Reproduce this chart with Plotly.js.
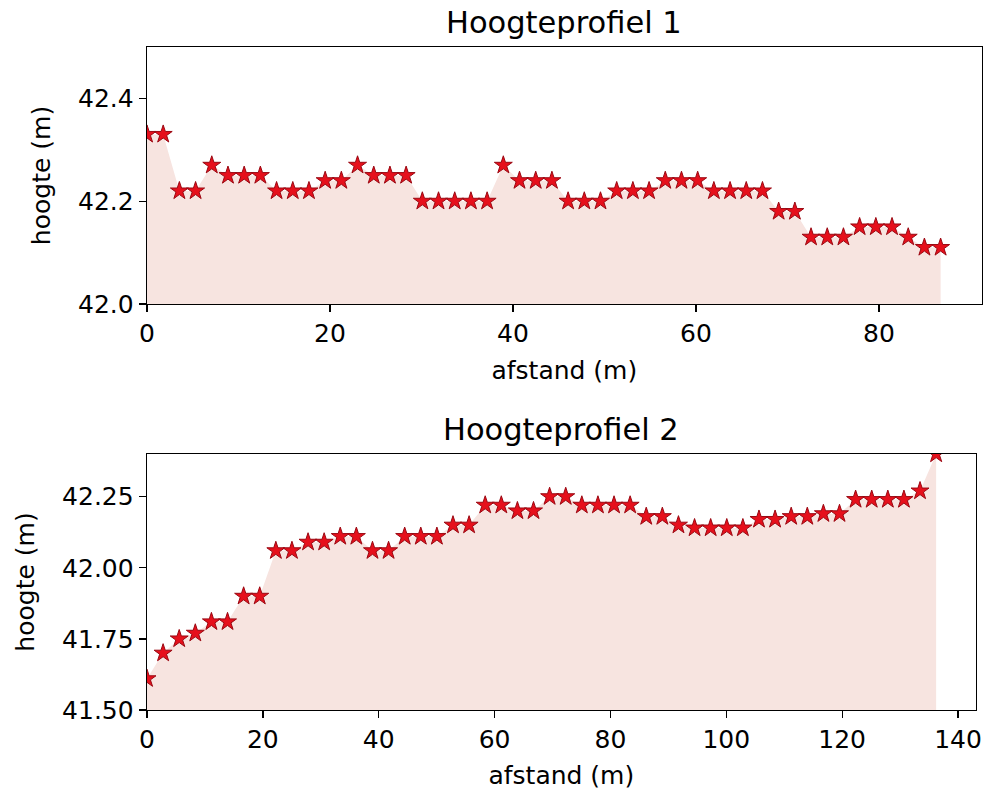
<!DOCTYPE html>
<html>
<head>
<meta charset="utf-8">
<script src="https://cdn.plot.ly/plotly-3.0.1.min.js"></script>
<style>html,body{margin:0;padding:0;background:#fff;}#chart{width:984px;height:790px;}</style>
</head>
<body>
<div id="chart"></div>
<script>
// Hoogteprofiel 1
const afstand1 = [0, 1.77, 3.54, 5.31, 7.08, 8.85, 10.62, 12.39, 14.16, 15.93, 17.7, 19.47, 21.24, 23.01, 24.78, 26.55, 28.32, 30.09, 31.86, 33.63, 35.4, 37.17, 38.94, 40.71, 42.48, 44.25, 46.02, 47.79, 49.56, 51.33, 53.1, 54.87, 56.64, 58.41, 60.18, 61.95, 63.72, 65.49, 67.26, 69.03, 70.8, 72.57, 74.34, 76.11, 77.88, 79.65, 81.42, 83.19, 84.96, 86.73];
const hoogte1 = [42.33, 42.33, 42.22, 42.22, 42.27, 42.25, 42.25, 42.25, 42.22, 42.22, 42.22, 42.24, 42.24, 42.27, 42.25, 42.25, 42.25, 42.20, 42.20, 42.20, 42.20, 42.20, 42.27, 42.24, 42.24, 42.24, 42.20, 42.20, 42.20, 42.22, 42.22, 42.22, 42.24, 42.24, 42.24, 42.22, 42.22, 42.22, 42.22, 42.18, 42.18, 42.13, 42.13, 42.13, 42.15, 42.15, 42.15, 42.13, 42.11, 42.11];
// Hoogteprofiel 2
const afstand2 = [0, 2.78, 5.56, 8.34, 11.12, 13.9, 16.68, 19.46, 22.24, 25.02, 27.8, 30.58, 33.36, 36.14, 38.92, 41.7, 44.48, 47.26, 50.04, 52.82, 55.6, 58.38, 61.16, 63.94, 66.72, 69.5, 72.28, 75.06, 77.84, 80.62, 83.4, 86.18, 88.96, 91.74, 94.52, 97.3, 100.08, 102.86, 105.64, 108.42, 111.2, 113.98, 116.76, 119.54, 122.32, 125.1, 127.88, 130.66, 133.44, 136.22];
const hoogte2 = [41.61, 41.70, 41.75, 41.77, 41.81, 41.81, 41.90, 41.90, 42.06, 42.06, 42.09, 42.09, 42.11, 42.11, 42.06, 42.06, 42.11, 42.11, 42.11, 42.15, 42.15, 42.22, 42.22, 42.20, 42.20, 42.25, 42.25, 42.22, 42.22, 42.22, 42.22, 42.18, 42.18, 42.15, 42.14, 42.14, 42.14, 42.14, 42.17, 42.17, 42.18, 42.18, 42.19, 42.19, 42.24, 42.24, 42.24, 42.24, 42.27, 42.40];

const titles = ["Hoogteprofiel 1", "Hoogteprofiel 2"];
const xTitle = "afstand (m)";
const yTitle = "hoogte (m)";

const FONT = "DejaVu Sans, sans-serif";
const fillCol = "#f7e4e0";
const starCol = "#e6101c";
const starEdge = "#9a0812";

function fillTrace(x, y, xa, ya) {
  return {x: x, y: y, xaxis: xa, yaxis: ya, type: "scatter", mode: "lines",
    fill: "tozeroy", fillcolor: fillCol, line: {width: 0, color: fillCol},
    hoverinfo: "skip", showlegend: false};
}
function starTrace(x, y, xa, ya) {
  return {x: x, y: y, xaxis: xa, yaxis: ya, type: "scatter", mode: "markers",
    marker: {symbol: "star", size: 13.5, color: starCol, line: {color: starEdge, width: 1}},
    showlegend: false};
}

const data = [
  fillTrace(afstand1, hoogte1, "x", "y"),
  starTrace(afstand1, hoogte1, "x", "y"),
  fillTrace(afstand2, hoogte2, "x2", "y2"),
  starTrace(afstand2, hoogte2, "x2", "y2")
];

const TF = {family: FONT, size: 25, color: "#000"};
const axBase = {
  showline: true, mirror: true, linecolor: "#000", linewidth: 1.3,
  ticks: "outside", ticklen: 7, tickwidth: 1.3, tickcolor: "#000",
  showgrid: false, zeroline: false, automargin: false,
  tickfont: TF
};

const W = 984, H = 790;
const layout = {
  width: W, height: H,
  margin: {l: 0, r: 0, t: 0, b: 0},
  paper_bgcolor: "#fff", plot_bgcolor: "#fff",
  font: {family: FONT, color: "#000"},
  showlegend: false,
  xaxis: Object.assign({}, axBase, {
    domain: [147 / W, 981.7 / W], anchor: "y",
    range: [0, 91.22], tickmode: "array", tickvals: [0, 20, 40, 60, 80],
    title: {text: xTitle, font: TF, standoff: 14}
  }),
  yaxis: Object.assign({}, axBase, {
    domain: [1 - 304 / H, 1 - 47 / H], anchor: "x",
    range: [42.0, 42.5], tickmode: "array", tickvals: [42.0, 42.2, 42.4],
    tickformat: ".1f",
    title: {text: yTitle, font: TF, standoff: 20}
  }),
  xaxis2: Object.assign({}, axBase, {
    domain: [147 / W, 975.7 / W], anchor: "y2",
    range: [0, 143.05], tickmode: "array", tickvals: [0, 20, 40, 60, 80, 100, 120, 140],
    title: {text: xTitle, font: TF, standoff: 14}
  }),
  yaxis2: Object.assign({}, axBase, {
    domain: [1 - 710 / H, 1 - 454 / H], anchor: "x2",
    range: [41.5, 42.40], tickmode: "array", tickvals: [41.5, 41.75, 42.0, 42.25],
    tickformat: ".2f",
    title: {text: yTitle, font: TF, standoff: 20}
  }),
  annotations: [
    {text: titles[0], xref: "paper", yref: "paper", x: 564.4 / W, y: 1 - 22 / H,
     xanchor: "center", yanchor: "middle", showarrow: false,
     font: {family: FONT, size: 30.5, color: "#000"}},
    {text: titles[1], xref: "paper", yref: "paper", x: 561.4 / W, y: 1 - 429 / H,
     xanchor: "center", yanchor: "middle", showarrow: false,
     font: {family: FONT, size: 30.5, color: "#000"}}
  ]
};

Plotly.newPlot("chart", data, layout, {displayModeBar: false, staticPlot: true});
</script>
</body>
</html>
